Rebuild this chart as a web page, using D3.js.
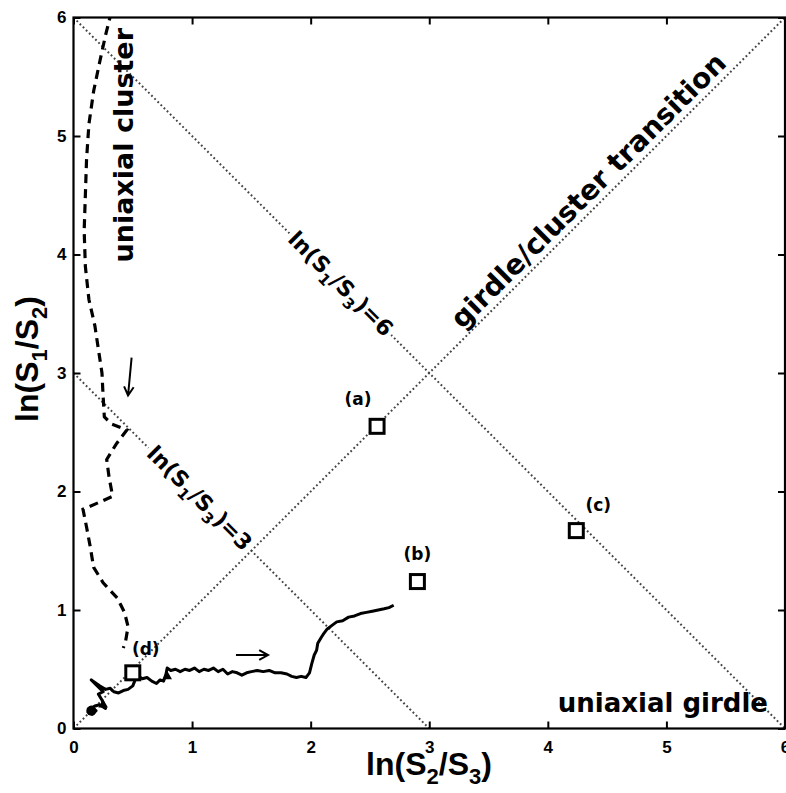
<!DOCTYPE html>
<html><head><meta charset="utf-8">
<script src="https://cdn.jsdelivr.net/npm/d3@7"></script>
<style>body{margin:0;background:#fff;} svg{display:block;}</style>
</head><body><svg id="chart" width="786" height="793"></svg>
<script>
// ---- data ----
const xTicks = [0, 1, 2, 3, 4, 5, 6];
const yTicks = [0, 1, 2, 3, 4, 5, 6];
const diagLine = [[0, 0], [6, 6]];
const line3 = [[0, 3], [3, 0]];
const line6 = [[0, 6], [6, 0]];
const sampleNames = ["(a)", "(b)", "(c)", "(d)"];
const sampleX = [2.56, 2.90, 4.24, 0.50];
const sampleY = [2.55, 1.24, 1.67, 0.47];
const dashedPath = [
  [0.32, 6.05], [0.27, 5.85], [0.22, 5.62], [0.17, 5.38], [0.13, 5.10], [0.11, 4.80],
  [0.10, 4.50], [0.09, 4.20], [0.10, 3.90], [0.13, 3.62], [0.18, 3.40], [0.21, 3.20],
  [0.24, 3.00], [0.25, 2.80], [0.26, 2.63], [0.32, 2.57], [0.45, 2.52], [0.36, 2.40],
  [0.28, 2.27], [0.30, 2.12], [0.33, 1.96], [0.22, 1.91], [0.08, 1.85], [0.11, 1.70],
  [0.14, 1.54], [0.17, 1.36], [0.25, 1.23], [0.37, 1.10], [0.43, 0.98], [0.46, 0.86],
  [0.44, 0.74], [0.42, 0.68]
];
const solidPath = [
  [0.12, 0.13], [0.15, 0.18], [0.19, 0.15], [0.16, 0.12], [0.13, 0.16], [0.18, 0.19],
  [0.22, 0.20], [0.27, 0.17], [0.24, 0.24], [0.21, 0.29], [0.25, 0.31], [0.19, 0.37],
  [0.15, 0.41], [0.22, 0.36], [0.27, 0.33], [0.31, 0.34], [0.34, 0.31], [0.38, 0.30],
  [0.42, 0.32], [0.46, 0.33], [0.50, 0.36], [0.52, 0.41], [0.55, 0.44], [0.58, 0.42],
  [0.62, 0.43], [0.66, 0.40], [0.70, 0.38], [0.73, 0.41], [0.76, 0.40], [0.78, 0.46],
  [0.79, 0.51], [0.82, 0.49], [0.86, 0.50], [0.90, 0.48], [0.94, 0.50], [0.98, 0.49],
  [1.02, 0.51], [1.06, 0.48], [1.10, 0.50], [1.14, 0.49], [1.18, 0.51], [1.22, 0.48],
  [1.26, 0.50], [1.30, 0.46], [1.34, 0.48], [1.38, 0.47], [1.42, 0.45], [1.46, 0.47],
  [1.50, 0.48], [1.55, 0.49], [1.60, 0.48], [1.65, 0.49], [1.70, 0.47], [1.75, 0.47],
  [1.80, 0.46], [1.84, 0.44], [1.88, 0.43], [1.92, 0.44], [1.96, 0.43], [1.99, 0.47],
  [2.01, 0.55], [2.03, 0.62], [2.05, 0.66], [2.06, 0.72], [2.09, 0.77], [2.11, 0.80],
  [2.14, 0.84], [2.18, 0.87], [2.22, 0.90], [2.27, 0.91], [2.32, 0.94], [2.37, 0.95],
  [2.42, 0.97], [2.47, 0.98], [2.52, 0.99], [2.57, 1.00], [2.62, 1.01], [2.66, 1.02],
  [2.70, 1.04]
];
const triangleMarks = [[0.25, 0.20], [0.79, 0.44]];
const startBlob = [[0.15, 0.15]];
const arrowRight = [[1.37, 0.62], [1.64, 0.62]];
const arrowDown = [[0.49, 3.13], [0.46, 2.81]];

// ---- layout ----
const svg = d3.select("#chart");
const L = 73.5, R = 785, T = 17.5, B = 728.5;
const x = d3.scaleLinear().domain([0, 6]).range([L, R]);
const y = d3.scaleLinear().domain([0, 6]).range([B, T]);
const tickFont = "'Liberation Sans', Arial, sans-serif";
const annFont = "'DejaVu Sans', sans-serif";

svg.append("defs").append("clipPath").attr("id", "clip")
  .append("rect").attr("x", L).attr("y", T).attr("width", R - L).attr("height", B - T);

const plot = svg.append("g").attr("clip-path", "url(#clip)");
const line = d3.line().x(d => x(d[0])).y(d => y(d[1]));

// reference dotted lines
[diagLine, line3, line6].forEach(l => {
  plot.append("path").attr("d", line(l)).attr("fill", "none")
    .attr("stroke", "#444").attr("stroke-width", 2).attr("stroke-dasharray", "1.8,2.6");
});

// annotation labels along diagonals
function diagLabel(px, py, angle, dyBase, parts, size, bg) {
  const g = svg.append("g").attr("transform", `translate(${px},${py}) rotate(${angle})`);
  const t = g.append("text").attr("text-anchor", "middle").attr("y", dyBase)
    .attr("font-family", annFont).attr("font-weight", "bold").attr("font-size", size).attr("fill", "#000");
  parts.forEach(p => {
    const ts = t.append("tspan").text(p.t);
    if (p.sub) ts.attr("font-size", size * 0.68).attr("dy", size * 0.28);
    if (p.back) ts.attr("dy", -size * 0.28);
  });
  if (bg) {
    const bb = t.node().getBBox();
    g.insert("rect", "text").attr("x", bb.x - 3).attr("y", bb.y - 1)
      .attr("width", bb.width + 6).attr("height", bb.height + 2).attr("fill", "#fff");
  }
}
const angDown = Math.atan2(y(0) - y(6), x(6) - x(0)) * 180 / Math.PI;
const angUp = -angDown;
const s13parts = v => [{t: "ln(S"}, {t: "1", sub: true}, {t: "/S", back: true}, {t: "3", sub: true}, {t: ")=" + v, back: true}];
diagLabel(x(2.25), y(6 - 2.25), angDown, 7, s13parts("6"), 22, true);
diagLabel(x(1.06), y(3 - 1.06), angDown, 7, s13parts("3"), 22, true);
diagLabel(x(4.44), y(4.44), angUp, -7, [{t: "girdle/cluster transition"}], 28, false);

// dashed trajectory
plot.append("path").attr("d", line(dashedPath)).attr("fill", "none")
  .attr("stroke", "#000").attr("stroke-width", 3.2).attr("stroke-dasharray", "9,6");

// solid trajectory
plot.append("path").attr("d", line(solidPath)).attr("fill", "none")
  .attr("stroke", "#000").attr("stroke-width", 3).attr("stroke-linejoin", "round");
plot.selectAll("circle.blob").data(startBlob).join("circle")
  .attr("cx", d => x(d[0])).attr("cy", d => y(d[1])).attr("r", 5).attr("fill", "#000");
plot.selectAll("path.tri").data(triangleMarks).join("path").attr("class", "tri")
  .attr("transform", d => `translate(${x(d[0])},${y(d[1])})`)
  .attr("d", d3.symbol(d3.symbolTriangle, 40)()).attr("fill", "#000");

// arrows
function arrow(pts) {
  const [a, b] = pts;
  const x1 = x(a[0]), y1 = y(a[1]), x2 = x(b[0]), y2 = y(b[1]);
  const ang = Math.atan2(y2 - y1, x2 - x1);
  const h = 10, w = 0.5;
  svg.append("path").attr("d", `M${x1},${y1}L${x2},${y2}` +
    `M${x2 - h * Math.cos(ang - w)},${y2 - h * Math.sin(ang - w)}L${x2},${y2}L${x2 - h * Math.cos(ang + w)},${y2 - h * Math.sin(ang + w)}`)
    .attr("fill", "none").attr("stroke", "#000").attr("stroke-width", 2);
}
arrow(arrowRight);
arrow(arrowDown);

// sample squares and labels
const labelOff = [[-19, -21], [0, -22], [22, -20], [13, -18]];
sampleNames.forEach((n, i) => {
  svg.append("rect").attr("x", x(sampleX[i]) - 7).attr("y", y(sampleY[i]) - 7)
    .attr("width", 14).attr("height", 14).attr("fill", "#fff").attr("stroke", "#000").attr("stroke-width", 3);
  svg.append("text").attr("x", x(sampleX[i]) + labelOff[i][0]).attr("y", y(sampleY[i]) + labelOff[i][1])
    .attr("text-anchor", "middle").attr("font-family", annFont).attr("font-weight", "bold")
    .attr("font-size", 17).text(n);
});

// region labels
svg.append("text").attr("transform", `translate(133,28) rotate(-90)`)
  .attr("text-anchor", "end").attr("font-family", annFont).attr("font-weight", "bold")
  .attr("font-size", 27).text("uniaxial cluster");
svg.append("text").attr("x", 768).attr("y", 712).attr("text-anchor", "end")
  .attr("font-family", annFont).attr("font-weight", "bold").attr("font-size", 26).text("uniaxial girdle");

// axes
const ax = svg.append("g");
function styleAxis(g) {
  g.select(".domain").remove();
  g.selectAll(".tick line").attr("stroke", "#000").attr("stroke-width", 2);
  g.selectAll(".tick text").attr("font-family", tickFont).attr("font-weight", "bold")
    .attr("font-size", 17).attr("fill", "#000");
}
ax.append("g").attr("transform", `translate(0,${B})`)
  .call(d3.axisBottom(x).tickValues(xTicks).tickSize(-7).tickPadding(12).tickFormat(d3.format("d"))).call(styleAxis);
ax.append("g").attr("transform", `translate(0,${T})`)
  .call(d3.axisTop(x).tickValues(xTicks).tickSize(-7).tickFormat("")).call(styleAxis);
ax.append("g").attr("transform", `translate(${L},0)`)
  .call(d3.axisLeft(y).tickValues(yTicks).tickSize(-7).tickPadding(7).tickFormat(d3.format("d"))).call(styleAxis);
ax.append("g").attr("transform", `translate(${R},0)`)
  .call(d3.axisRight(y).tickValues(yTicks).tickSize(-7).tickFormat("")).call(styleAxis);
svg.append("rect").attr("x", L).attr("y", T).attr("width", R - L).attr("height", B - T)
  .attr("fill", "none").attr("stroke", "#000").attr("stroke-width", 2.2);

// axis titles
function axisTitle(el, a, b) {
  el.attr("font-family", tickFont).attr("font-weight", "bold").attr("font-size", 32).attr("fill", "#000");
  el.append("tspan").text("ln(S");
  el.append("tspan").attr("font-size", 22).attr("dy", 9).text(a);
  el.append("tspan").attr("dy", -9).text("/S");
  el.append("tspan").attr("font-size", 22).attr("dy", 9).text(b);
  el.append("tspan").attr("dy", -9).text(")");
}
axisTitle(svg.append("text").attr("x", 429).attr("y", 775).attr("text-anchor", "middle"), "2", "3");
axisTitle(svg.append("text").attr("transform", "translate(38,359) rotate(-90)").attr("text-anchor", "middle"), "1", "2");
</script></body></html>
